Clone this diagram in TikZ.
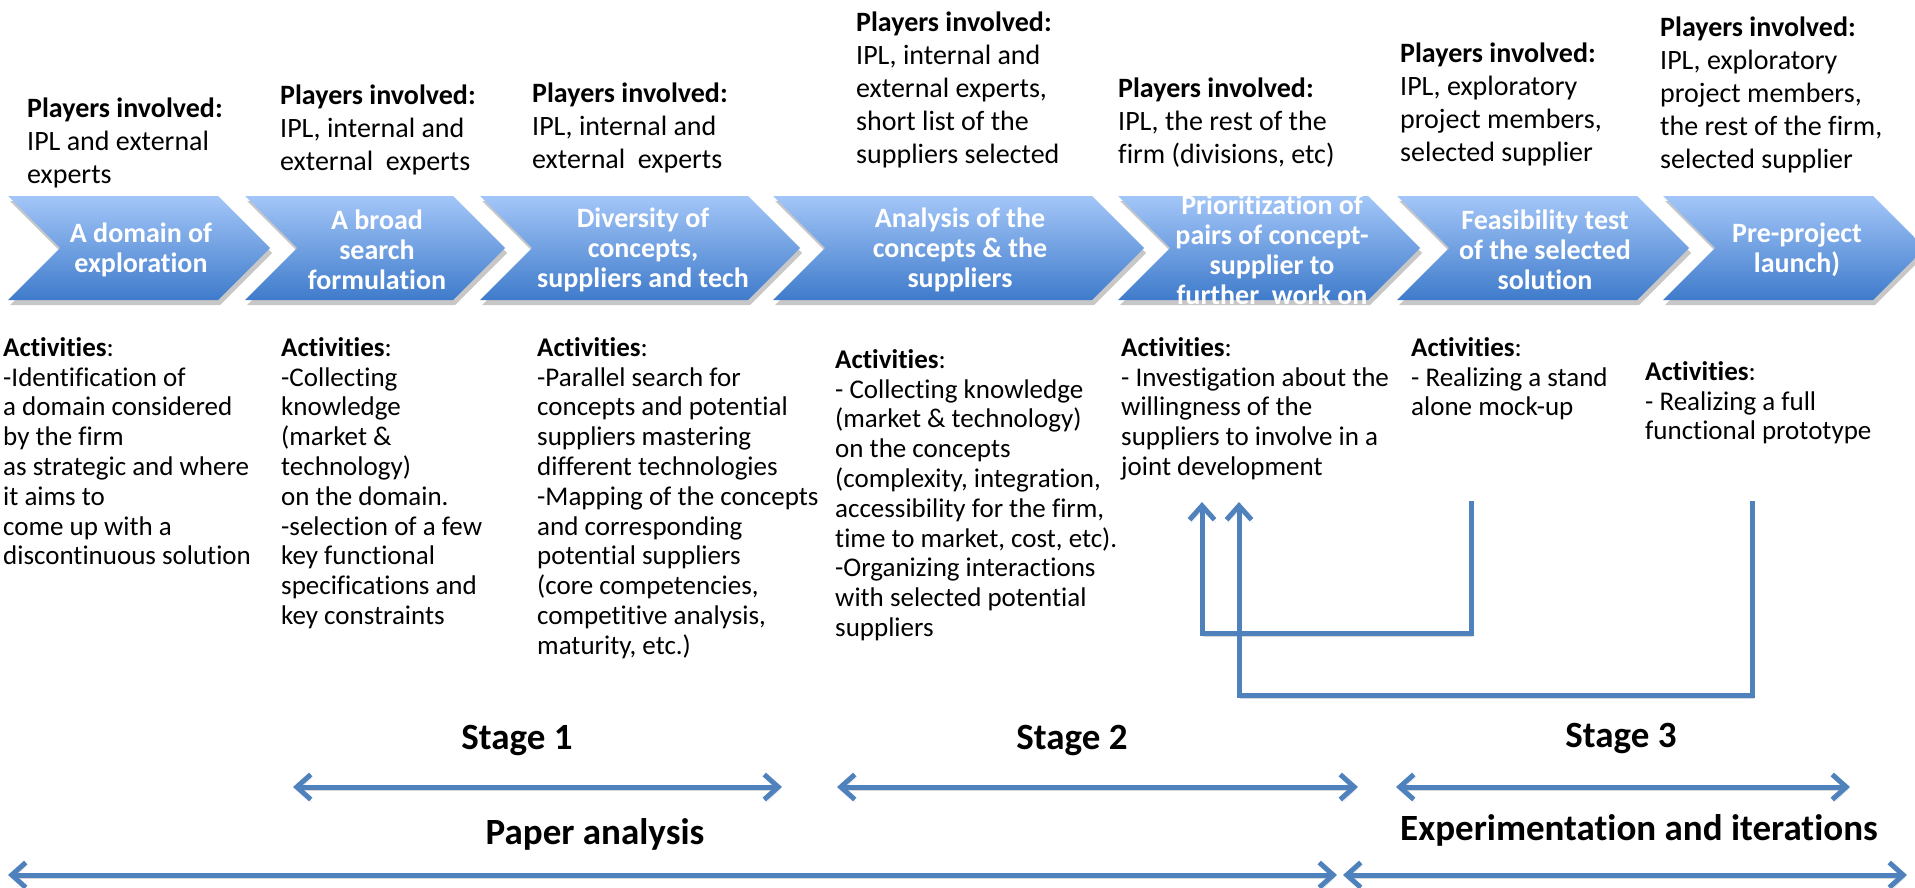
\documentclass[tikz,border=0pt]{standalone}
\usepackage{fontspec}
\setmainfont{Carlito}[Ligatures=NoCommon]
\usetikzlibrary{arrows.meta,shadows}
\definecolor{flow}{HTML}{4F81BD}
\definecolor{chevtop}{HTML}{A3C6F8}
\definecolor{chevbot}{HTML}{3F7BCB}
\newcommand\tp{\rule{0pt}{21pt}}
\newcommand\mychev[2]{\path[chevshape] (#1,196) -- (#2,196) -- ({#2+52},248) -- (#2,300) -- (#1,300) -- ({#1+52},248) -- cycle;}
\tikzset{
  chevshape/.style={top color=chevtop, bottom color=chevbot, draw=none,
    drop shadow={shadow xshift=2pt, shadow yshift=-5pt, fill=black, opacity=0.22}},
  chevtext/.style={text=white, font=\fontsize{28}{30}\selectfont\bfseries, align=center, inner sep=0pt},
  players/.style={anchor=north west, align=left, inner sep=0pt, font=\fontsize{28}{33}\selectfont},
  acts/.style={anchor=north west, align=left, inner sep=0pt, font=\fontsize{27}{29.8}\selectfont},
  stagelbl/.style={font=\fontsize{37}{40}\selectfont\bfseries, inner sep=0pt},
  flowline/.style={draw=flow, line width=5pt,
    preaction={draw=black!15, transform canvas={shift={(1.5pt,-3pt)}}}},
  twoway/.style={flowline, {Straight Barb[length=14pt,width=25pt]}-{Straight Barb[length=14pt,width=25pt]}},
  back/.style={flowline, -{Straight Barb[length=14pt,width=25pt]}},
}
\begin{document}
\begin{tikzpicture}[x=1pt,y=-1pt]
\useasboundingbox (0,0) rectangle (1915,888);
% chevrons
\mychev{8}{218}
\mychev{245}{453}
\mychev{480}{748}
\mychev{773}{1092}
\mychev{1118}{1368}
\mychev{1397}{1637}
\mychev{1663}{1873}
\node[chevtext] (c1) at (141,250) {A domain of\\exploration};
\node[chevtext] (c2) at (377,250) {A broad\\search\\formulation};
\node[chevtext] (c3) at (643,250) {Diversity of\\concepts,\\suppliers and tech};
\node[chevtext] (c4) at (960,250) {Analysis of the\\concepts \& the\\suppliers};
\node[chevtext] (c5) at (1272,250) {Prioritization of\\pairs of concept-\\supplier to\\further~ work on};
\node[chevtext] (c6) at (1545,250) {Feasibility test\\of the selected\\solution};
\node[chevtext] (c7) at (1797,250) {Pre-project\\launch)};
% players
\node[players] (p1) at (27,96) {\tp\textbf{Players involved:}\\IPL and external\\experts};
\node[players] (p2) at (280,83) {\tp\textbf{Players involved:}\\IPL, internal and\\external~ experts};
\node[players] (p3) at (532,81) {\tp\textbf{Players involved:}\\IPL, internal and\\external~ experts};
\node[players] (p4) at (856,10) {\tp\textbf{Players involved:}\\IPL, internal and\\external experts,\\short list of the\\suppliers selected};
\node[players] (p5) at (1118,76) {\tp\textbf{Players involved:}\\IPL, the rest of the\\firm (divisions, etc)};
\node[players] (p6) at (1400,41) {\tp\textbf{Players involved:}\\IPL, exploratory\\project members,\\selected supplier};
\node[players] (p7) at (1660,15) {\tp\textbf{Players involved:}\\IPL, exploratory\\project members,\\the rest of the firm,\\selected supplier};
% activities
\node[acts] (a1) at (3,335) {\tp\textbf{Activities}:\\-Identification of\\a domain considered\\by the firm\\as strategic and where\\it aims to\\come up with a\\discontinuous solution};
\node[acts] (a2) at (281,335) {\tp\textbf{Activities}:\\-Collecting\\knowledge\\(market \&\\technology)\\on the domain.\\-selection of a few\\key functional\\specifications and\\key constraints};
\node[acts] (a3) at (537,335) {\tp\textbf{Activities}:\\-Parallel search for\\concepts and potential\\suppliers mastering\\different technologies\\-Mapping of the concepts\\and corresponding\\potential suppliers\\(core competencies,\\competitive analysis,\\maturity, etc.)};
\node[acts] (a4) at (835,347) {\tp\textbf{Activities}:\\- Collecting knowledge\\(market \& technology)\\on the concepts\\(complexity, integration,\\accessibility for the firm,\\time to market, cost, etc).\\-Organizing interactions\\with selected potential\\suppliers};
\node[acts] (a5) at (1121,335) {\tp\textbf{Activities}:\\- Investigation about the\\willingness of the\\suppliers to involve in a\\joint development};
\node[acts] (a6) at (1411,335) {\tp\textbf{Activities}:\\- Realizing a stand\\alone mock-up};
\node[acts] (a7) at (1645,359) {\tp\textbf{Activities}:\\- Realizing a full\\functional prototype};
% feedback loops
\coordinate (fa1) at (1471,501);
\coordinate (fa2) at (1202,502);
\coordinate (fb1) at (1752,501);
\coordinate (fb2) at (1239,502);
\draw[back] (fa1) -- ++(0,132) -| (fa2);
\draw[back] (fb1) -- ++(0,194) -| (fb2);
% stages
\node[stagelbl] (st1) at (517,740) {Stage 1};
\node[stagelbl] (st2) at (1072,740) {Stage 2};
\node[stagelbl] (st3) at (1621,738) {Stage 3};
\coordinate (s1a) at (293,787); \coordinate (s1b) at (782,787);
\coordinate (s2a) at (837,787); \coordinate (s2b) at (1358,787);
\coordinate (s3a) at (1396,787); \coordinate (s3b) at (1850,787);
\draw[twoway] (s1a) -- (s1b);
\draw[twoway] (s2a) -- (s2b);
\draw[twoway] (s3a) -- (s3b);
\node[stagelbl] (pa) at (595,834) {Paper analysis};
\node[stagelbl] (ei) at (1639,830) {Experimentation and iterations};
\coordinate (b1a) at (8,875); \coordinate (b1b) at (1337,875);
\coordinate (b2a) at (1343,875); \coordinate (b2b) at (1907,875);
\draw[twoway] (b1a) -- (b1b);
\draw[twoway] (b2a) -- (b2b);
\end{tikzpicture}
\end{document}
